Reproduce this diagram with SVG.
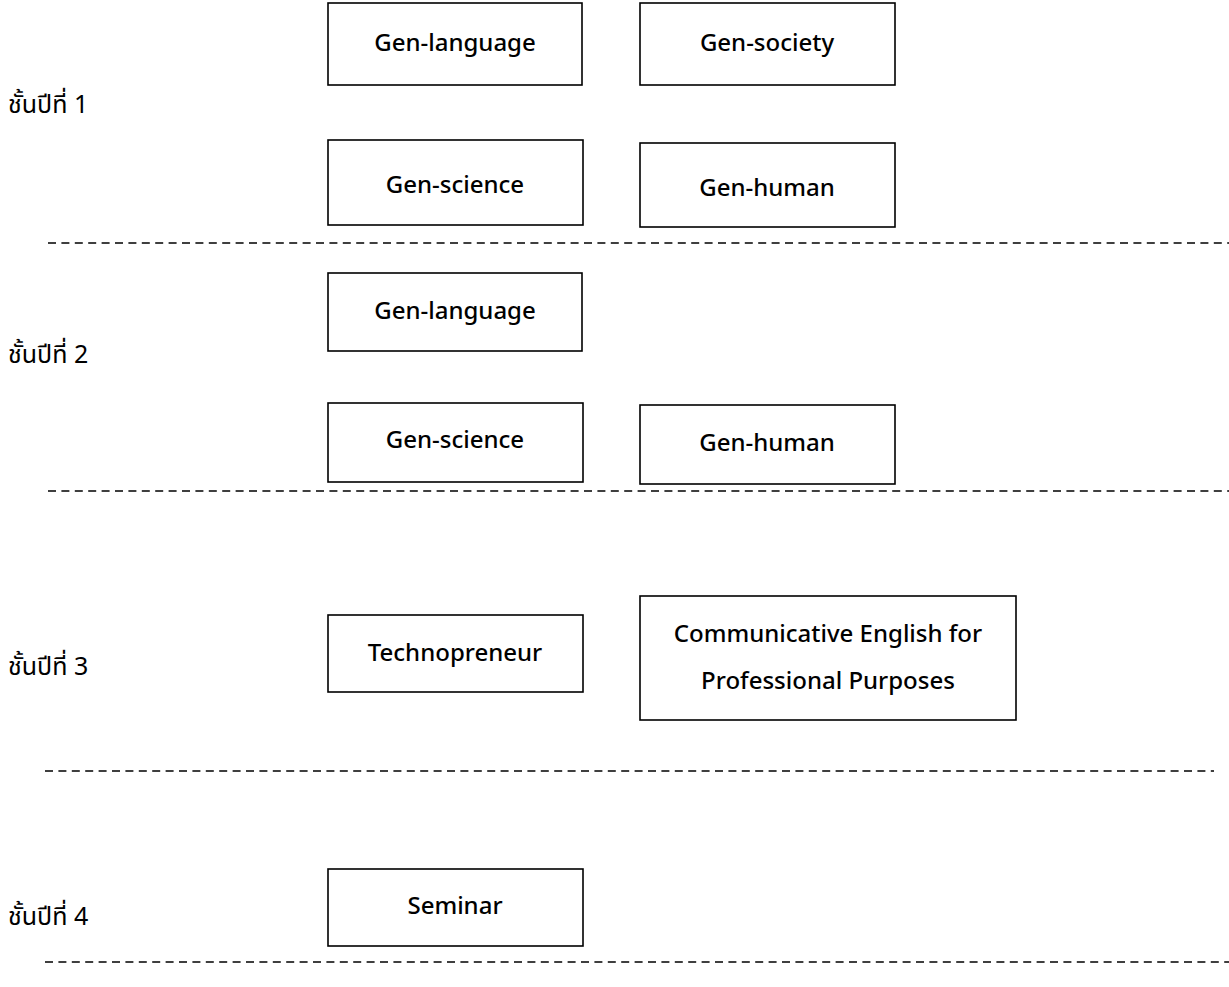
<svg xmlns="http://www.w3.org/2000/svg" width="1229" height="987" viewBox="0 0 1229 987">
<style>
.box{fill:#fff;stroke:#000;stroke-width:1.6}
.t{font-family:"Noto Sans","DejaVu Sans",sans-serif;font-weight:500;font-size:24px;fill:#000;text-anchor:middle;dominant-baseline:central}
.th{font-family:"Noto Sans Thai","Noto Sans","DejaVu Sans",sans-serif;font-size:25px;fill:#000;dominant-baseline:central}
.d{stroke:#000;stroke-width:1.6;stroke-dasharray:8 5.4;fill:none}
</style>
<rect width="1229" height="987" fill="#fff"/>
<g id="connectors">
<line class="d" x1="48" y1="243" x2="1229" y2="243"/>
<line class="d" x1="48" y1="491" x2="1229" y2="491"/>
<line class="d" x1="45" y1="771" x2="1214" y2="771"/>
<line class="d" x1="45" y1="962" x2="1229" y2="962"/>
</g>
<g id="labels">
<text class="th" x="8" y="105">ชั้นปีที่ 1</text>
<text class="th" x="8" y="355">ชั้นปีที่ 2</text>
<text class="th" x="8" y="667">ชั้นปีที่ 3</text>
<text class="th" x="8" y="917">ชั้นปีที่ 4</text>
</g>
<g id="y1-language"><rect class="box" x="328" y="3" width="254" height="82"/><text class="t" x="455" y="41">Gen-language</text></g>
<g id="y1-society"><rect class="box" x="640" y="3" width="255" height="82"/><text class="t" x="767" y="41">Gen-society</text></g>
<g id="y1-science"><rect class="box" x="328" y="140" width="255" height="85"/><text class="t" x="455" y="183">Gen-science</text></g>
<g id="y1-human"><rect class="box" x="640" y="143" width="255" height="84"/><text class="t" x="767" y="186">Gen-human</text></g>
<g id="y2-language"><rect class="box" x="328" y="273" width="254" height="78"/><text class="t" x="455" y="309">Gen-language</text></g>
<g id="y2-science"><rect class="box" x="328" y="403" width="255" height="79"/><text class="t" x="455" y="438">Gen-science</text></g>
<g id="y2-human"><rect class="box" x="640" y="405" width="255" height="79"/><text class="t" x="767" y="441">Gen-human</text></g>
<g id="y3-techno"><rect class="box" x="328" y="615" width="255" height="77"/><text class="t" x="455" y="651">Technopreneur</text></g>
<g id="y3-english"><rect class="box" x="640" y="596" width="376" height="124"/><text class="t" x="828" y="632">Communicative English for</text><text class="t" x="828" y="679">Professional Purposes</text></g>
<g id="y4-seminar"><rect class="box" x="328" y="869" width="255" height="77"/><text class="t" x="455" y="904">Seminar</text></g>
</svg>
